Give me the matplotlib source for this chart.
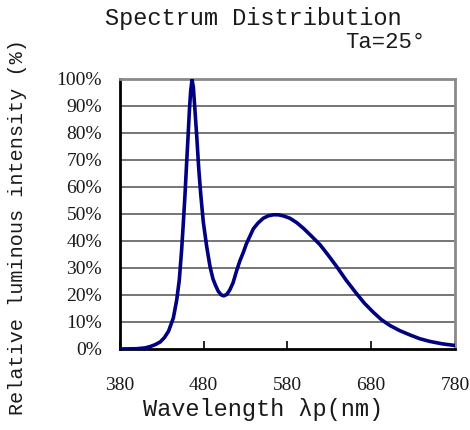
import matplotlib.pyplot as plt

# wavelength (nm) and relative intensity (%)
wavelength = [380, 400, 410, 416, 422, 428, 433, 438, 443.7, 447.7, 450.8, 453.6,
              455.6, 457.6, 459.6, 461.5, 463, 464.4, 466, 467.6, 469.5, 471.6, 474,
              476.5, 479.5, 483.5, 487.5, 491, 494, 497.5, 501, 504, 507.5, 511, 515,
              519.3, 523, 527.3, 531, 535.2, 539.2, 545, 551, 557, 563, 569, 575, 583,
              591, 599, 608, 618.9, 628, 638.8, 650, 663, 672, 682.5, 692, 702.4, 714,
              726.3, 738, 750, 765, 780]
intensity = [0.0, 0.1, 0.4, 0.9, 1.6, 2.6, 4.2, 6.6, 11.5, 18.1, 25.5, 36.7,
             46.5, 57.0, 69.0, 80.0, 89.0, 95.5, 99.8, 97.0, 88.5, 79.0, 67.0,
             57.0, 47.0, 38.0, 30.5, 26.0, 23.6, 21.3, 20.0, 19.7, 20.2, 21.8, 24.5,
             29.0, 32.5, 35.8, 39.0, 41.8, 44.5, 46.7, 48.4, 49.3, 49.7, 49.7, 49.3, 48.4,
             46.8, 44.7, 42.0, 38.6, 35.0, 30.5, 25.5, 20.3, 16.9, 13.6, 10.9, 8.7, 6.8,
             5.2, 3.8, 2.8, 1.9, 1.3]

x_ticks = [380, 480, 580, 680, 780]
y_ticks = list(range(0, 101, 10))
y_labels = [f"{v}%" for v in y_ticks]

fig = plt.figure(figsize=(4.7, 4.3), dpi=100)
ax = fig.add_axes([0.2553, 0.1884, 0.7127, 0.628])

for v in y_ticks[1:]:
    ax.axhline(v, color="#6a6a6a", linewidth=1.3, zorder=1)

ax.plot(wavelength, intensity, color="#000080", linewidth=2.6, zorder=3,
        solid_joinstyle="round", solid_capstyle="round")

ax.set_xlim(380, 780)
ax.set_ylim(0, 100)
ax.set_xticks(x_ticks)
ax.set_yticks(y_ticks)
ax.set_yticklabels(y_labels)
ax.tick_params(axis="x", direction="in", length=6, width=1.2, pad=20, colors="black")
ax.tick_params(axis="y", length=0, pad=13)
for lab in ax.get_xticklabels() + ax.get_yticklabels():
    lab.set_fontfamily("Liberation Serif")
    lab.set_fontsize(14)
    lab.set_color("#1a1a1a")

ax.spines["left"].set_color("black")
ax.spines["left"].set_linewidth(2)
ax.spines["bottom"].set_color("black")
ax.spines["bottom"].set_linewidth(2)
ax.spines["top"].set_color("#8a8a8a")
ax.spines["top"].set_linewidth(2)
ax.spines["right"].set_color("#8a8a8a")
ax.spines["right"].set_linewidth(2)

mono = dict(family="Liberation Mono", color="#1a1a1a")
fig.text(0.54, 0.958, "Spectrum Distribution", ha="center", va="center", fontsize=17, **mono)
fig.text(0.905, 0.9, "Ta=25°", ha="right", va="center", fontsize=16, **mono)
fig.text(0.56, 0.047, "Wavelength λp(nm)", ha="center", va="center", fontsize=17, **mono)
fig.text(0.038, 0.471, "Relative luminous intensity (%)", ha="center", va="center",
         rotation=90, fontsize=14.5, **mono)

fig.savefig("out.png", dpi=100)
